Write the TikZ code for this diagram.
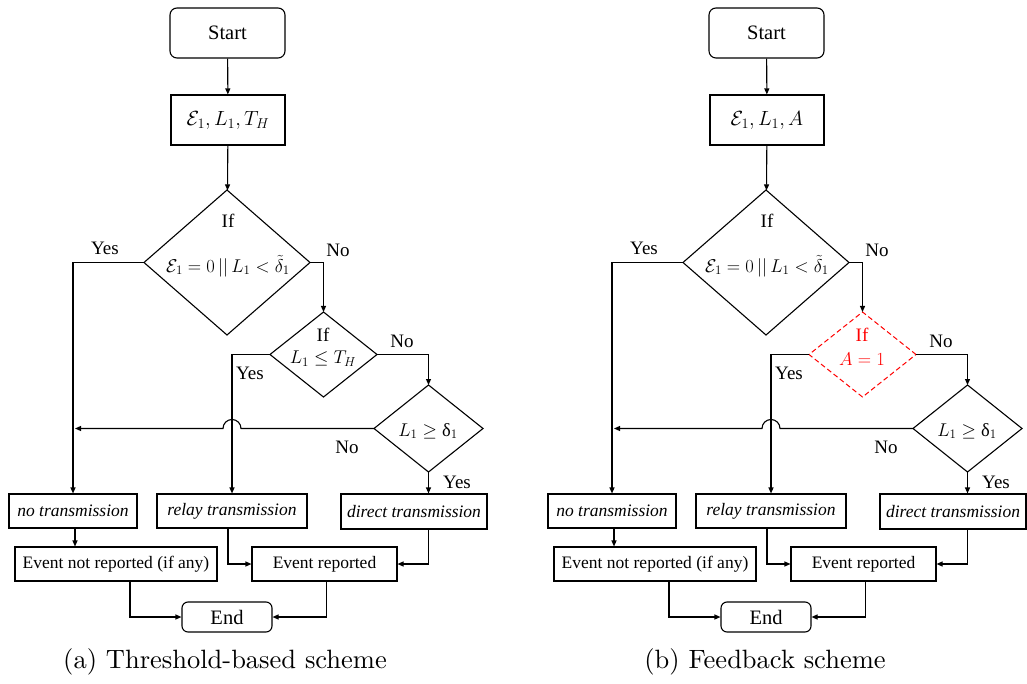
\RequirePackage{fix-cm}
\documentclass[tikz,border=0pt]{standalone}
\usepackage{fontspec}
\newfontfamily\tnr{Liberation Serif}
\newfontfamily\capfont{lmroman10-regular.otf}
\usetikzlibrary{arrows.meta,shapes.geometric}
\tikzset{
  base/.style={font=\tnr\fontsize{17.5}{21}\selectfont},
  mth/.style={font=\tnr\fontsize{18.5}{21}\selectfont, inner sep=1pt},
  lbl/.style={font=\tnr\fontsize{19}{22}\selectfont, inner sep=0},
  arr/.style={-{Triangle[length=6pt,width=5pt]}, line width=1.1pt},
  term/.style={base, draw, line width=1.1pt, rounded corners=7pt, inner sep=0, font=\tnr\fontsize{20.5}{24}\selectfont},
  proc/.style={base, draw, line width=1.1pt, inner sep=0},
  dia/.style={draw, shape=diamond, line width=1.1pt, inner sep=0, outer sep=0},
  reddia/.style={dia, red, dash pattern=on 5pt off 3pt, line width=1pt},
  caption/.style={font=\capfont\fontsize{26.5}{30}\selectfont, inner sep=0}
}
\newcommand\onechart[6]{%
  % #1 prefix, #2 x offset, #3 input text, #4 diamond2 style, #5 diamond2 text colour, #6 diamond2 line2
  \begin{scope}[xshift=#2pt]
  \node[term, minimum width=115pt, minimum height=50pt] (#1start) at (227.5,33) {Start};
  \node[proc, minimum width=114pt, minimum height=50pt, font=\tnr\fontsize{20.5}{24}\selectfont] (#1in) at (228,120) {#3};
  \node[dia, minimum width=166pt, minimum height=145pt] (#1d1) at (227,262.5) {};
  \node[lbl] (#1d1a) at (228,221) {If};
  \node[mth] (#1d1b) at (228,266) {$\mathcal{E}_1 = 0\,||\,L_1 < \tilde{\delta}_1$};
  \node[#4, minimum width=107pt, minimum height=85pt] (#1d2) at (323.5,354.5) {};
  \node[lbl, text=#5] (#1d2a) at (323,335) {If};
  \node[mth, text=#5] (#1d2b) at (323,359) {#6};
  \node[dia, minimum width=109pt, minimum height=87pt] (#1d3) at (428.5,428.5) {};
  \node[mth] (#1d3a) at (428,431) {$L_1 \geq \hbox{δ}_1$};
  \node[proc, minimum width=128pt, minimum height=34pt] (#1nt) at (73,511) {\itshape no transmission};
  \node[proc, minimum width=150pt, minimum height=34pt] (#1rt) at (232,511) {\itshape relay transmission};
  \node[proc, minimum width=146pt, minimum height=35pt] (#1dt) at (414,511.5) {\itshape direct transmission};
  \node[proc, minimum width=202pt, minimum height=34pt] (#1enr) at (116,564) {Event not reported (if any)};
  \node[proc, minimum width=145pt, minimum height=34pt] (#1er) at (324.5,564) {Event reported};
  \node[term, minimum width=90pt, minimum height=30pt, rounded corners=6pt] (#1end) at (227,617) {End};
  % connectors
  \draw[arr] (#1start) -- (#1in);
  \draw[arr] (#1in) -- (#1d1);
  \draw[arr] (#1d1.west) -| (#1nt.north);
  \draw[arr] (#1d1.east) -| (#1d2.north);
  \draw[arr] (#1d2.west) -| (#1rt.north);
  \draw[arr] (#1d2.east) -| (#1d3.north);
  \draw[arr] (#1d3.south) -- (#1d3.south |- #1dt.north);
  \draw[arr] (#1d3.west) -- ([xshift=9pt]#1rt.north |- #1d3.west)
     arc[start angle=0, end angle=180, radius=9pt] -- ([xshift=2pt]#1nt.north |- #1d3.west);
  \draw[arr] ([xshift=2pt]#1nt.south) -- ([xshift=2pt]#1nt.south |- #1enr.north);
  \draw[arr] ([xshift=-4pt]#1rt.south) |- (#1er.west);
  \draw[arr] (#1d3.south |- #1dt.south) |- (#1er.east);
  \draw[arr] ([xshift=14pt]#1enr.south) |- (#1end.west);
  \draw[arr] ([xshift=2pt]#1er.south) |- (#1end.east);
  % labels
  \node[lbl] (#1y1) at (105,248) {Yes};
  \node[lbl] (#1n1) at (338,250) {No};
  \node[lbl] (#1y2) at (250,373) {Yes};
  \node[lbl] (#1n2) at (402,341) {No};
  \node[lbl] (#1n3) at (347,447) {No};
  \node[lbl] (#1y3) at (457,482) {Yes};
  \end{scope}
}
\begin{document}
\begin{tikzpicture}[x=1pt,y=-1pt]
\useasboundingbox (0,0) rectangle (1027,684);
\onechart{a}{0}{$\mathcal{E}_1, L_1, T_H$}{dia}{black}{$L_1 \leq T_H$}
\onechart{b}{539}{$\mathcal{E}_1, L_1, A$}{reddia}{red}{$A = 1$}
\node[caption] (capa) at (225,662) {(a) Threshold-based scheme};
\node[caption] (capb) at (765,662) {(b) Feedback scheme};
\end{tikzpicture}
\end{document}
